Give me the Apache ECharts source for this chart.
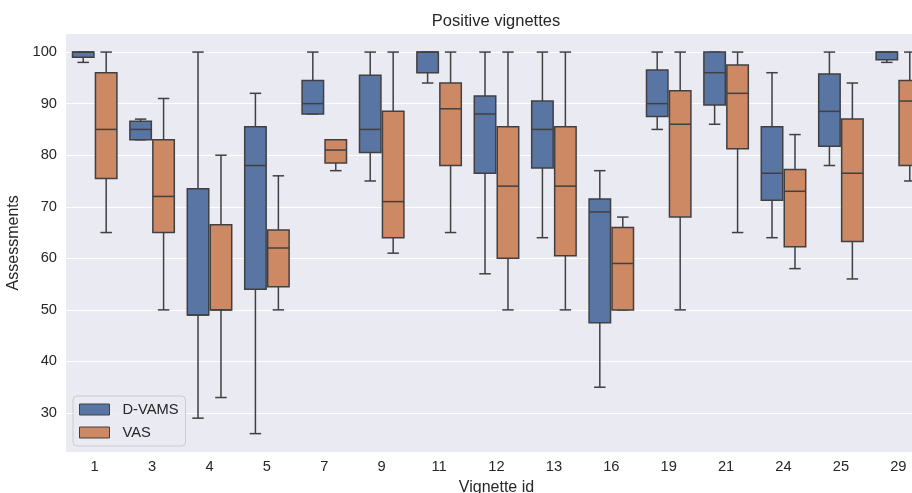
<!DOCTYPE html>
<html>
<head>
<meta charset="utf-8">
<script src="https://cdn.jsdelivr.net/npm/echarts@6/dist/echarts.min.js"></script>
<style>html,body{margin:0;padding:0;background:#fff}#c{width:912px;height:493px}</style>
</head>
<body>
<div id="c"></div>
<script>
// Vignette ids (categories)
var categories = ['1','3','4','5','7','9','11','12','13','16','19','21','24','25','29'];
// Box statistics per vignette: [lower whisker, Q1, median, Q3, upper whisker]
var dvamsStats = [
  [98, 99, 100, 100, 100],
  [83, 83, 85, 86.6, 87],
  [29, 49, 49, 73.5, 100],
  [26, 54, 78, 85.5, 92],
  [88, 88, 90, 94.5, 100],
  [75, 80.5, 85, 95.5, 100],
  [94, 96, 100, 100, 100],
  [57, 76.5, 88, 91.5, 100],
  [64, 77.5, 85, 90.5, 100],
  [35, 47.5, 69, 71.5, 77],
  [85, 87.5, 90, 96.5, 100],
  [86, 89.75, 96, 100, 100],
  [64, 71.25, 76.5, 85.5, 96],
  [78, 81.75, 88.5, 95.75, 100],
  [98, 98.5, 100, 100, 100]
];
var vasStats = [
  [65, 75.5, 85, 96, 100],
  [50, 65, 72, 83, 91],
  [33, 50, 50, 66.5, 80],
  [50, 54.5, 62, 65.5, 76],
  [77, 78.5, 81, 83, 83],
  [61, 64, 71, 88.5, 100],
  [65, 78, 89, 94, 100],
  [50, 60, 74, 85.5, 100],
  [50, 60.5, 74, 85.5, 100],
  [50, 50, 59, 66, 68],
  [50, 68, 86, 92.5, 100],
  [65, 81.25, 92, 97.5, 100],
  [58, 62.25, 73, 77.25, 84],
  [56, 63.25, 76.5, 87, 94],
  [75, 78, 90.5, 94.5, 100]
];
var seriesNames = ['D-VAMS', 'VAS'];
var seriesColors = ['#5975a4', '#cc8963'];

var LINE = '#404040';
function makeData(stats) {
  return stats.map(function (s, i) { return [i].concat(s); });
}
function makeRender(sign, color) {
  return function (params, api) {
    var x = api.value(0);
    var band = api.size([1, 0])[0];
    var w = band * 0.4;
    var cx = api.coord([x, 0])[0] + sign * w / 2;
    function Y(v) { return api.coord([x, v])[1]; }
    var lo = Y(api.value(1)), q1 = Y(api.value(2)), med = Y(api.value(3)), q3 = Y(api.value(4)), hi = Y(api.value(5));
    var ls = { stroke: LINE, lineWidth: 1.5, fill: null };
    var cap = w / 4;
    var bw = w - 1.5;
    return {
      type: 'group',
      children: [
        { type: 'line', shape: { x1: cx, y1: q1, x2: cx, y2: lo }, style: ls },
        { type: 'line', shape: { x1: cx, y1: q3, x2: cx, y2: hi }, style: ls },
        { type: 'line', shape: { x1: cx - cap, y1: lo, x2: cx + cap, y2: lo }, style: ls },
        { type: 'line', shape: { x1: cx - cap, y1: hi, x2: cx + cap, y2: hi }, style: ls },
        { type: 'rect', shape: { x: cx - bw / 2, y: q3, width: bw, height: q1 - q3 }, style: { fill: color, stroke: LINE, lineWidth: 1.5 } },
        { type: 'line', shape: { x1: cx - bw / 2, y1: med, x2: cx + bw / 2, y2: med }, style: ls }
      ]
    };
  };
}

var chart = echarts.init(document.getElementById('c'), null, { renderer: 'canvas' });
var FONT = 'Liberation Sans, Arial, sans-serif';
chart.setOption({
  backgroundColor: '#ffffff',
  animation: false,
  title: {
    text: 'Positive vignettes', left: 496, top: 13, padding: 0, textAlign: 'center',
    textStyle: { fontFamily: FONT, fontSize: 16.5, fontWeight: 'normal', color: '#262626' }
  },
  legend: {
    orient: 'vertical', left: 73, top: 396, padding: [5, 7, 5, 6],
    itemWidth: 30, itemHeight: 11, itemGap: 6, icon: 'rect',
    backgroundColor: 'rgba(234,234,242,0.8)', borderColor: '#cccccc', borderWidth: 1, borderRadius: 4,
    textStyle: { fontFamily: FONT, fontSize: 14.7, color: '#262626', lineHeight: 17, padding: [0, 0, 0, 8] },
    itemStyle: { borderColor: LINE, borderWidth: 1 },
    data: seriesNames
  },
  grid: { left: 66, top: 33, width: 861, height: 419.7, show: true, backgroundColor: '#eaeaf2', borderWidth: 0, containLabel: false, outerBoundsMode: 'none' },
  xAxis: {
    type: 'category', data: categories, boundaryGap: true,
    name: 'Vignette id', nameLocation: 'middle', nameGap: 24,
    nameTextStyle: { fontFamily: FONT, fontSize: 16, color: '#262626' },
    axisLine: { show: false }, axisTick: { show: false },
    axisLabel: { fontFamily: FONT, fontSize: 14.7, color: '#262626', margin: 7 },
    splitLine: { show: false }
  },
  yAxis: {
    type: 'value', min: 22.3, max: 103.7, splitNumber: 8,
    name: 'Assessments', nameLocation: 'middle', nameGap: 39,
    nameTextStyle: { fontFamily: FONT, fontSize: 16, color: '#262626' },
    axisLine: { show: false }, axisTick: { show: false },
    axisLabel: { fontFamily: FONT, fontSize: 14.7, color: '#262626', margin: 9, showMinLabel: false, showMaxLabel: false },
    splitLine: { show: true, lineStyle: { color: '#ffffff', width: 1.2 } }
  },
  series: [
    {
      name: seriesNames[0], type: 'custom', clip: false,
      itemStyle: { color: seriesColors[0], borderColor: LINE, borderWidth: 1 },
      encode: { x: 0, y: [1, 2, 3, 4, 5] },
      renderItem: makeRender(-1, seriesColors[0]),
      data: makeData(dvamsStats)
    },
    {
      name: seriesNames[1], type: 'custom', clip: false,
      itemStyle: { color: seriesColors[1], borderColor: LINE, borderWidth: 1 },
      encode: { x: 0, y: [1, 2, 3, 4, 5] },
      renderItem: makeRender(1, seriesColors[1]),
      data: makeData(vasStats)
    }
  ]
});
</script>
</body>
</html>
